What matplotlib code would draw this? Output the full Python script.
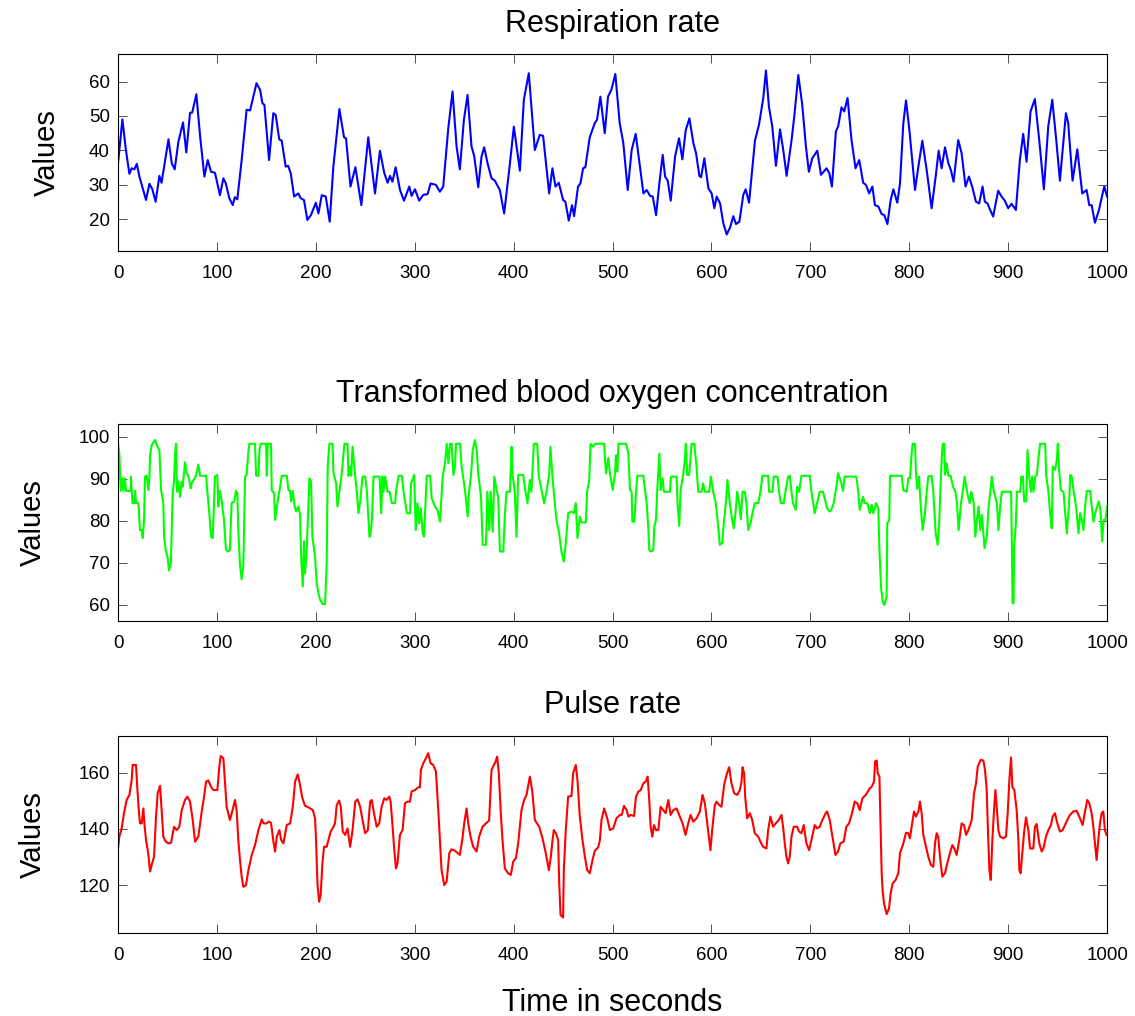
import numpy as np
import matplotlib
matplotlib.use("Agg")
import matplotlib.pyplot as plt

plt.rcParams['font.family'] = ['Liberation Sans', 'DejaVu Sans']

# (time in s, value)
resp_points = [
    (0, 36.3), (4.4, 49.0), (8, 40), (11.5, 33.2), (13.8, 34.8), (16.5, 34.5), (19, 36.1), (21.6, 32.4),
    (25, 29), (28.3, 25.6), (31.7, 30.3), (34.7, 28.7), (38, 25.1), (41.8, 32.6), (44, 30.6), (51, 43.2),
    (54.3, 36.3), (57.3, 34.5), (61, 42.5), (65.7, 48.1), (69, 39.4), (72.8, 50.9), (75, 51.0), (79.2, 56.3),
    (83, 44), (87.3, 32.4), (90.7, 37.2), (94, 33.8), (98, 33.5), (103, 27), (106.5, 31.9), (109, 30.4),
    (112.5, 26.1), (116, 24.1), (118, 26.4), (120.6, 25.8), (125, 37.2), (130, 51.8), (133.5, 51.6),
    (140, 59.5), (143.6, 57.6), (146, 53.7), (148, 53.2), (152.7, 37.2), (157, 50.8), (159.4, 50.3),
    (163, 43.2), (165.5, 42.8), (169.5, 35.3), (172, 35.5), (174.6, 33.4), (178, 26.6), (182.3, 27.5),
    (184.7, 26.1), (188, 25.6), (191.4, 19.8), (195, 21.2), (200, 24.8), (202.6, 21.7), (206, 27),
    (210, 26.6), (214, 19.3), (217.7, 35.3), (223.8, 52), (228.5, 43.8), (230.5, 43.5), (235, 29.5),
    (240, 35.1), (246, 24.1), (253, 43.8),
    (259.8, 27.5), (264.8, 39.9), (269.2, 33.4), (272.6, 30.6), (275, 32.6), (277.4, 30.9), (280.7, 35.1),
    (285.1, 28.5), (289.1, 25.4), (294.5, 29.5), (296.8, 26.8), (300.2, 28.7), (304.5, 25.4), (308.6, 27.1),
    (313, 27.3), (316, 30.4), (321.4, 30), (325.4, 28), (328.8, 29.5), (333.9, 46.4), (338.2, 57.1),
    (342.3, 41.1), (345.6, 34.5), (349.7, 48.9), (353.4, 56.1), (357.4, 41.1), (360.1, 38.4), (364.2, 29.3),
    (367.5, 38.2), (370.2, 40.9), (373.6, 36.3), (377.6, 31.9), (381, 31.2), (386, 28.5), (390.4, 21.7),
    (395.5, 34.3), (400.2, 46.9), (406.3, 34.1), (410.3, 54.7), (415.3, 62.4), (418, 52.7), (421.4, 40.1),
    (426.4, 44.5), (429.8, 44.2), (435.9, 27.5), (439.2, 34.8), (442.3, 29.5), (445.6, 30.6), (450, 25.6),
    (452.3, 25.1), (455.7, 19.6), (459, 24.1), (461.1, 20.9), (465.1, 29.5), (467.5, 30.4), (470.2, 34.8),
    (472.5, 35.1), (476.9, 43.8), (482, 47.9), (484.3, 48.9), (487.7, 55.6), (492.1, 45), (495.4, 55.6),
    (498.8, 57.6), (502.8, 62.2), (507.2, 47.9),
    (510.9, 42.1), (515.3, 28.5), (519.3, 40.1), (523.4, 44.8), (527.1, 36.7), (531.2, 27.5), (534.5, 28.5),
    (537.9, 26.8), (540.6, 26.6), (544, 21.2), (547.3, 30.4), (550.7, 38.7), (553.1, 32.4), (555.8, 31.2),
    (558.8, 25.4), (563.2, 38.2), (567.2, 43.5), (570.6, 37.4), (574, 45.9), (577.7, 49.3), (581.7, 42.1),
    (584.4, 39.2), (587.8, 32.6), (589.5, 32.2), (592.8, 37.7), (596.9, 29), (600.2, 27.5), (602.9, 23.2),
    (605.3, 26.6), (608.7, 24.6), (612, 18.8), (615.4, 15.6), (618.8, 17.6), (622.1, 20.9), (624.8, 18.6),
    (628.2, 19.3), (632.2, 27.1), (634.6, 28.7), (638, 24.8), (644, 42.9), (648, 47.4), (652.4, 55.2),
    (655.1, 63.2), (658.1, 52.7), (661.5, 46.9), (665.2, 35.5), (669.3, 46.1), (672.6, 40.1), (676, 32.6),
    (681, 43), (683.7, 49.8), (687.8, 61.9), (691.8, 53.2), (695.5, 41.1), (698.5, 33.8), (701.9, 37.7),
    (707, 39.9), (710.7, 32.9), (716.4, 34.8), (719.1, 33.4), (721.8, 29.5), (725.8, 45.5), (728.2, 47.1),
    (731.5, 52.5), (734.2, 51.3), (737.6, 55.2), (741.6, 43), (745.7, 34.8), (749.4, 37.2), (753.4, 30.6),
    (756.1, 30), (759.5, 27.5),
    (762.7, 29.5), (765.3, 24.1), (768.7, 23.7), (772.1, 21.5), (774.8, 21.2), (777.9, 18.6), (781.2, 25.6),
    (783.9, 28.7), (787.9, 24.8), (790.6, 30.4), (794, 47.9), (796.7, 54.5), (800.1, 46), (805.8, 28.5),
    (809.2, 35.3), (813.2, 42.8), (817.6, 34.3), (822.6, 23.2), (826.7, 32.4), (829.7, 39.9), (832.7, 34.8),
    (836.1, 40.9), (839.5, 36.3), (842.1, 34.3), (844.8, 30.9), (849.5, 43), (852.9, 39.2), (856.9, 29.5),
    (860.3, 32.4), (863.6, 29.5), (867.4, 25.1), (870.7, 24.6), (874.1, 29.5), (876.4, 25.1), (879.1, 24.6),
    (881.5, 22.9), (884.8, 20.8), (889.9, 28.3), (893.3, 26.6), (896.6, 25.4), (900, 23.2), (903.4, 24.5),
    (907.8, 22.7), (911.8, 37.2), (915.2, 44.8), (918.6, 36.7), (922.6, 51.3), (927, 54.9), (931.4, 43),
    (936.1, 28.7), (940.5, 46.9), (944.6, 54.7), (948.9, 42.1), (952.3, 31.2), (955.7, 42.1), (958.4, 50.8),
    (960.7, 47.9), (965.1, 31.2), (969.9, 40.3), (974.9, 27.5), (979.3, 28.5), (982, 24.1), (984.4, 24.1),
    (987.7, 19), (991.8, 22.7), (995.5, 27.5), (997.2, 29.5), (1000, 26.6),
]

oxy_points = [
    (0, 98.4), (1.3, 96), (2.7, 87.1), (4.7, 90.1), (5.4, 87.1), (7, 90.1), (8, 87.1), (12.8, 87.1),
    (13.1, 90.5), (14.5, 84.2), (16.5, 84.2), (17.2, 87.1), (18.2, 84.2), (20.6, 84.2), (22.2, 77.8),
    (23.9, 77.8), (25, 75.9), (26.3, 80.2), (27.3, 90.5), (29, 90.7), (30.7, 87.3), (31.7, 90.5),
    (32.4, 95.6), (34, 98), (37.4, 99.2), (39, 98), (41.8, 96.8), (43.5, 87.3), (45.8, 84.2), (46.5, 76.2),
    (48.2, 73.1), (50.2, 71.1), (51.5, 68.2), (53.5, 70.3), (55.2, 86.5), (56.6, 89.3), (57.6, 95.6),
    (58.6, 98.3), (59.6, 86.9), (61, 89.3), (62.7, 85.7), (64.3, 89.3), (65.4, 88.1), (67.7, 93.9),
    (69.4, 91.3), (71.1, 90.7), (73.5, 87.7), (74.5, 88.9), (78.8, 90.7), (81.2, 93.4), (82.9, 90.7),
    (89, 90.7), (90.3, 86.9), (92.3, 81.8), (94, 76.2), (95.7, 75.9), (98, 90.5), (100.4, 90.9),
    (101.4, 83.4), (103, 87.1), (104.7, 85), (107.1, 80.2), (109.1, 73.1), (111.5, 72.7), (113.1, 73.1),
    (114.8, 84.2), (117.5, 84.6), (119.2, 87.1), (120.6, 86.5), (121.6, 77.8), (123.3, 69.5), (125, 66.1),
    (126.7, 69.5), (128.4, 90.5), (130, 90.9), (131.8, 96.4), (132.8, 98.3), (138.5, 98.3), (139.6, 90.7),
    (142, 90.7), (143, 96.8), (144.3, 98.3), (149.7, 98.3), (150.4, 90.7), (151.4, 98.3), (154.7, 98.3),
    (155.4, 87.3), (157.8, 86.5), (158.8, 80.2), (160.5, 83.4), (163.9, 88.1), (165.5, 90.7), (170.6, 90.7),
    (172.3, 87.3), (174, 87.1), (175, 84.6), (176.7, 87.1), (178, 84.2), (180, 82.2), (182.4, 83.4),
    (184, 81.4), (185, 72.3), (186.8, 64.4), (188.1, 75.1), (189.1, 67.5), (190.8, 73.1), (192.5, 84.2),
    (193.5, 90.1), (195.2, 89.3), (196.5, 76.2), (199.2, 71.5), (200.9, 65.2), (202.6, 62.8), (204.3, 61.2),
    (207, 60.2), (209.3, 60.2), (211, 69.9), (212, 92.9), (213.7, 98.3), (216.8, 98.3), (217.8, 91.3),
    (220.5, 88.9), (221.8, 83.4), (223.9, 86.9), (226.2, 91.3), (228.9, 98.3), (232, 98.3), (233, 90.7),
    (234.7, 92.9), (235.7, 90.7), (237.1, 97.6), (239.8, 90.5), (241.4, 86.9), (243.1, 81.8), (244.8, 84.6),
    (247.2, 90.5), (249.9, 90.5), (251.5, 87.3), (254.2, 76.2),
    (255, 76.4), (256.7, 80.2), (258.3, 90.5), (264.4, 90.5), (266.1, 81.8), (267.4, 90.5), (268.4, 86.9),
    (270.1, 90.5), (272.5, 86.9), (274.5, 86.9), (276.9, 84.2), (280.2, 84.2), (281.2, 87.1), (283.6, 90.7),
    (287, 90.7), (288.6, 87.1), (292, 81.8), (295.3, 81.8), (296.3, 88.9), (299.4, 90.9), (301, 77.8),
    (302.7, 84.2), (304.4, 79.4), (306.1, 83), (308.1, 77), (309.4, 76.2), (312.1, 90.7), (315.5, 90.7),
    (317.1, 85.4), (320.5, 83.4), (322.9, 82.6), (325.6, 79.8), (328.2, 90.5), (330.6, 93.7), (332.3, 98.3),
    (334, 93.7), (335.7, 98.3), (337.3, 98.3), (339, 90.9), (340.7, 92.9), (341.7, 98.3), (345.8, 98.3),
    (347.4, 92.9), (350.8, 87.3), (352.5, 83.4), (353.5, 81), (354.9, 86.9), (356.9, 90.9), (358.6, 96.8),
    (360.9, 99.2), (362.6, 96.8), (364.3, 90.9), (367, 85.7), (368.7, 74.3), (372, 74.3), (373.4, 86.9),
    (375.4, 77.8), (376.7, 86.9), (378.8, 77.4), (380.4, 90.5), (382.8, 87.3), (384.4, 85.7), (386.1, 72.7),
    (389.5, 72.7), (391.2, 81.8), (392.8, 86.9), (396.2, 86.9), (397.9, 97.6), (398.9, 90.9), (401.2, 86.9),
    (402.9, 76.2), (404.6, 90.9), (409.6, 90.9), (412, 86.9), (414, 84.2), (416.4, 89.7), (418, 86.9),
    (420.4, 98.3), (423.8, 98.3), (425.4, 90.5), (428.1, 87.3), (430.8, 84.2), (433.2, 86.9), (435.9, 90.9),
    (437.2, 97.6), (439.2, 90.5), (441.6, 84.2), (443.3, 80.2), (446, 77), (448.3, 72.7), (450.7, 70.3),
    (452.7, 74.7), (455.1, 81.8), (458.5, 82.2), (460.8, 81.8), (462.8, 84.2), (464.5, 75.9), (466.9, 81),
    (468.6, 79.6), (473, 79.6), (474.3, 86.9), (476.4, 89.7), (477.7, 98.3), (480.4, 97.6), (482.1, 98.3),
    (491.4, 98.3), (493.4, 91.3), (495.8, 94.9), (497.5, 90.9), (500.2, 87.3), (502.5, 91.3), (503.5, 95.6),
    (504.8, 91.7), (505.9, 98.3), (513.6, 98.3), (516, 96), (517.6, 87.3), (519.3, 86.9), (520, 79.8),
    (522, 79.8), (523.7, 86.5), (525, 90.7), (531.1, 90.7), (532.8, 87.3), (534.5, 84.2), (536.1, 78.6),
    (537.1, 73.1), (538.5, 72.7), (541.2, 73.1), (542.2, 78.6), (543.9, 80.2), (545.2, 87.3), (547.3, 96),
    (548.6, 87.3), (550.6, 90.1), (551.9, 86.9), (558, 86.9), (559, 90.5), (564.7, 90.5), (565.7, 84.2),
    (567.4, 78.8), (568.8, 87.3), (571.4, 90.9), (573.1, 94.5), (574.1, 98.3), (575.5, 90.9), (577.5, 90.9),
    (579.9, 98.3), (582.6, 98.3), (584.9, 92.9), (586.6, 86.9), (590, 86.9), (591.6, 88.9), (593.3, 86.9),
    (597.7, 86.9), (599.4, 90.5), (601.7, 86.9), (604.4, 84.2), (606.8, 78.6), (608.4, 74.3), (610.8, 74.7),
    (612.5, 79.4), (614.5, 84.2), (616.2, 89.7), (618.6, 84.2), (620.9, 80.2), (622.6, 78.2), (624.6, 82.6),
    (626, 86.9), (628, 84.2), (629.7, 80.4), (631.4, 86.9), (633.7, 86.9), (635.4, 84.2), (637.1, 77.8),
    (639.4, 79.4), (641.5, 81.8), (643.8, 84.2), (647.2, 84.2), (649.5, 86.9), (651.5, 90.7), (657.3, 90.7),
    (658.3, 86.9), (661.7, 86.9), (663, 90.5), (666.7, 90.5), (668.4, 86.9), (670.1, 84.2), (673.1, 84.2),
    (675.1, 87.3), (677.5, 90.5), (679.2, 90.7), (680.9, 86.9), (682.5, 84.2), (685.2, 82.6), (686.6, 88.1),
    (688.6, 86.9), (691, 90.7), (699.4, 90.7), (701.1, 86.9), (702.8, 84.2), (704.4, 81.8), (706.8, 84.2),
    (709.5, 86.9), (712.8, 86.9), (714.5, 85.4), (716.9, 83), (719.6, 82.2), (721.2, 82.6), (723.6, 84.2),
    (726.3, 88.1), (728, 91.3), (729.7, 90.1), (731.3, 88.9), (733, 87.1), (734.7, 90.5), (746.5, 90.5),
    (748.2, 87.3), (749.9, 82.6), (753.2, 85.7), (754.9, 84.2), (757.6, 84.2), (759.3, 82.6),
    (760.3, 81.8), (762, 83.8), (763.7, 81.8), (766.4, 84.2), (768.7, 83), (769.7, 73.9), (771.4, 64.4),
    (773.1, 60.8), (774.8, 60), (777.1, 62), (777.8, 79.4), (779.8, 80.2), (780.5, 90.7), (792.3, 90.7),
    (794, 87.3), (797.4, 86.9), (799, 90.1), (800.7, 90.1), (802.4, 96), (803.4, 98.3), (805.8, 98.3),
    (806.8, 91.3), (808.1, 87.6), (809.8, 90.5), (811.5, 83.8), (813.5, 77.8), (815.9, 81.8), (817.6, 86.9),
    (819.2, 90.5), (822.6, 90.7), (824.3, 86.9), (826.7, 77), (828.7, 74.3), (830.4, 80.2), (832.1, 91.3),
    (833.7, 98.3), (835.4, 98.3), (836.1, 90.9), (837.8, 93.7), (839.5, 90.7), (841.8, 90.7), (844.2, 88.1),
    (846.6, 86.9), (848.2, 84.2), (849.9, 77.8), (852.3, 84.2), (854, 86.9), (856, 90.5), (858.4, 86.9),
    (861, 84.2), (862.7, 86.9), (865.1, 84.2), (866.8, 76.2), (868.4, 80.2), (870.1, 83.4), (871.8, 77.8),
    (873.4, 81.4), (876.1, 73.5), (878.5, 76.6), (880.2, 83.4), (881.9, 86.9), (883.5, 90.5), (885.2, 87.3),
    (888.6, 84.2), (890.2, 77.8), (891.9, 83.4), (893.6, 86.9), (903, 86.9), (903.7, 75.1), (904.4, 60.4),
    (905.4, 60.4), (906.1, 74.3), (907.8, 79.4), (908.8, 86.9), (912.2, 86.9), (913.2, 90.5), (914.9, 90.5),
    (916.2, 84.6), (918.2, 84.6), (919.6, 96.8), (921.3, 90.5), (922.9, 86.9), (924.3, 90.5), (925.6, 86.9),
    (927.3, 90.5), (929, 90.9), (930.7, 95.2), (932.3, 98.3), (937.4, 98.3), (938.4, 90.9), (940.7, 86.9),
    (942.4, 81.8), (944.1, 78.2), (945.1, 92.9), (947.5, 92.1), (949.2, 94.5), (950.2, 98.3), (951.5, 92.1),
    (953.2, 87.3), (955.9, 86.9), (957.6, 81.8), (959.3, 77), (961.6, 84.2), (962.7, 90.9), (964.3, 90.5),
    (966, 87.3), (968.7, 83.4), (971.1, 77), (972.8, 81.8), (974.4, 80.2), (976.1, 77.8), (977.8, 83.4),
    (979.5, 87.1), (982.8, 87.1), (984.5, 83.4), (986.2, 79.8), (988.9, 82.6), (991.6, 84.6), (993.3, 82.6),
    (995, 75.1), (996.6, 80.2), (998.3, 80.2), (1000, 83.4),
]

pulse_points = [
    (0, 133.1), (1.3, 137.3), (3.7, 140.2), (6, 145.6), (8.7, 150.3), (11.5, 152.1), (13.8, 157.4),
    (14.8, 162.7), (18.2, 162.7), (19.5, 154.4), (21.2, 145.6), (22.2, 142), (23.9, 142), (25.6, 147.3),
    (26.6, 142), (28.3, 136.1), (30.7, 130.8), (32.4, 124.9), (34, 127.2), (36.4, 130.2), (38.4, 144.4),
    (40.1, 152.7), (42.5, 155.3), (44.1, 146.7), (45.8, 137.3), (48.2, 135.5), (50.9, 134.9), (53.6, 135.1),
    (56.6, 140.8), (59.3, 139.6), (62, 140.8), (64.4, 146.7), (67.7, 150.3), (70.1, 151.5), (72.8, 149.7),
    (75.5, 143.2), (77.9, 135.5), (81.2, 137.3), (84.6, 146.2), (87, 151.5), (89, 156.8), (91.4, 157.2),
    (94, 155), (96.4, 153.8), (100.4, 153.8), (102.4, 162.1), (103.8, 165.9), (106.5, 165.1), (108.2, 156.2),
    (109.8, 147.9), (113.1, 143.2), (115.8, 146.7), (118.2, 150.3), (119.9, 146.7), (121.6, 136.1),
    (123.3, 129), (125, 123.1), (126.7, 119.5), (129.4, 120.1), (131.8, 125.4), (135.2, 130.8),
    (138.5, 134.3), (141.9, 139.6), (145.3, 143.4), (147, 142), (150.4, 142), (152.1, 142.6), (154.7, 142.2),
    (157.1, 135.5), (158.8, 132), (160.5, 137.3), (163.2, 139.6), (164.9, 136.1), (167.2, 134.9),
    (170.6, 141.4), (174, 142), (176.7, 147.9), (179, 156.8), (181.7, 159.4), (184, 155.6), (186.4, 150.9),
    (189.1, 148.2), (192.5, 147.7), (196.9, 146.7), (199.2, 143.8), (200.2, 136.1), (201.6, 120.7),
    (203.3, 114.2), (204.9, 116.6), (206.6, 127.8), (208.3, 133.7), (211, 133.7), (212.7, 136.1),
    (215, 139.1), (217.8, 140.8), (219.4, 142), (221.1, 148.5), (223.5, 150.1), (225.2, 147.9),
    (227.2, 139.1), (229.6, 137.9), (232, 140.2), (234.7, 133.7), (237.1, 139.6), (239.8, 149.7),
    (242.2, 150.5), (244.8, 147.9), (247.2, 143.2), (249.9, 138.5), (252.6, 139.6), (254.9, 149.7),
    (256.5, 150.3), (258.8, 145.6), (261.5, 140.8), (264.1, 142), (266.5, 147.9), (269.2, 150.9),
    (271.6, 150.3), (274.2, 151.5), (275.6, 149.7), (277.6, 140.8), (279.3, 132.5), (281, 126),
    (282.6, 127.8), (285, 137.9), (287.7, 139.6), (290.1, 149.1), (292.4, 149.7), (295.1, 149.7),
    (296.8, 153.3), (300.2, 153.8), (303.5, 154.8), (305.2, 154.8), (306.2, 160.9), (308.6, 163.3),
    (311.3, 165.1), (313.6, 166.9), (316, 163.3), (318.7, 162.7), (321.4, 160.4), (323.8, 146.7),
    (325.4, 136.1), (327.1, 125.4), (329.8, 120.1), (332.2, 121.3), (334.9, 131.4), (337.2, 132.8),
    (340.6, 132.3), (343, 131.6), (345.6, 130.8), (348.3, 136.7), (350, 142), (352.4, 147.3), (354.1, 142),
    (356.4, 137.3), (359.1, 133.7), (362.5, 132), (365.1, 137.3), (368.5, 140.8), (372.6, 142.2),
    (375.2, 143), (377.6, 160.9), (380, 162.7), (381.7, 163.9), (383.3, 165.7), (385, 159.8), (387, 145.6),
    (388.7, 136.1), (391.1, 126), (394.4, 124.3), (397.1, 123.7), (399.5, 128.4), (402.2, 129.6),
    (404.6, 134.9), (407.9, 146.7), (410.6, 150.3), (413, 152.1), (416.4, 158.6), (418.7, 153.8),
    (421.4, 143.2), (425.8, 140.8), (429.2, 136.7), (432.5, 131.4), (435.6, 125.4), (437.6, 130.2),
    (439.3, 136.1), (440.6, 139.6), (442.7, 138.5), (445, 136.1), (446, 121.3), (447.4, 109.5),
    (450, 108.6), (450.7, 125.4), (452.7, 139.6), (455.1, 151.5), (458.5, 151.7), (460.1, 159.8),
    (462.8, 162.7), (464.5, 157.4), (466.9, 144.4), (469.6, 136.1), (472, 130.2), (474.3, 125.4),
    (477, 124.3), (479.7, 129), (482.1, 132.3), (485.5, 133.5), (487.2, 136.1), (488.8, 143.2),
    (491.5, 147.3), (494.6, 143.8), (497.3, 139.6), (500.6, 140.2), (504, 143.8), (507.4, 145),
    (509.3, 145), (511.6, 148.2), (514.3, 146.7), (516, 144.4), (518.4, 145), (521.7, 144.6), (523.7, 151.5),
    (526.1, 153.3), (528.4, 153.8), (531.1, 156.2), (533.5, 156.8), (535.5, 158.6), (537.1, 150.3),
    (538.5, 140.8), (540.2, 137.3), (541.9, 141.4), (543.9, 139.6), (546.3, 139.6), (548.6, 147.9),
    (551.3, 146.7), (553.7, 145.6), (556.4, 150.3), (558.7, 145), (561.4, 146.7), (564.7, 147.3),
    (568.1, 144.4), (570.8, 142), (573.8, 137.9), (576.5, 142), (578.9, 145), (581.6, 142.6), (584.9, 143.8),
    (588.3, 146.2), (591, 152.1), (593.3, 149.1), (595.7, 142), (597.4, 137.3), (599, 132.5), (600.7, 139.6),
    (603.4, 148.5), (605.1, 149.7), (607.8, 148.5), (610.1, 147.9), (612.8, 155.6), (615.2, 159.2),
    (617.9, 161.9), (620.2, 156.2), (622.9, 152.7), (626, 152.1), (628.7, 153.8), (630.4, 156.8),
    (631.4, 161.9), (633, 159.8), (634.1, 151.5), (636.1, 143.8), (638.8, 145.6), (641.2, 143.2),
    (643.8, 138.5), (647.2, 137.3), (649.5, 135.5), (652.2, 133.7), (655.6, 133.1), (657.3, 139.6),
    (659.6, 144.4), (662.3, 140.8), (665, 142), (668.1, 143.2), (670.8, 145), (672.4, 140.8), (674.1, 134.9),
    (675.8, 130.2), (677.5, 127.8), (679.2, 130.2), (680.9, 137.3), (683.2, 140.8), (686.6, 140.8),
    (688.6, 139.1), (691, 138.5), (693.3, 141.4), (696, 134.9), (698.7, 132.5), (701.1, 136.1),
    (704.4, 141.4), (706.8, 140.2), (709.5, 140.8), (712.1, 143.2), (715.5, 145.6), (716.9, 146.2),
    (719.6, 143.2), (721.2, 139.6), (722.9, 136.1), (725.3, 130.8), (728, 132), (730.3, 134.9),
    (733.7, 135.5), (736.4, 140.8), (739.1, 142), (742.1, 145.6), (744.8, 149.7), (747.5, 149.1),
    (749.9, 146.7), (752.6, 150.9), (756, 152.1), (760, 154.4),
    (762, 155), (764.4, 156.8), (765.4, 163.9), (767.1, 164.3), (768.1, 159.8), (769.8, 158.6),
    (771.1, 139.6), (772.1, 124.3), (773.1, 117.8), (774.5, 113.6), (777.1, 109.8), (779.5, 111.8),
    (781.2, 117.2), (783.2, 120.7), (786.2, 121.9), (788.9, 124.3), (790.6, 131.4), (794, 134.9),
    (796.7, 138.7), (799, 138.5), (800.7, 136.7), (802.4, 140.8), (804.8, 146.2), (806.8, 144.4),
    (809.2, 146.2), (810.8, 149.7), (812.5, 145.6), (814.2, 137.9), (816.9, 133.7), (819.2, 130.2),
    (821.9, 127.2), (824.3, 126.6), (826, 134.9), (827.7, 138.5), (829.3, 137.3), (831, 130.2),
    (833.4, 123.1), (836.1, 124.3), (838.4, 127.8), (841.1, 131.4), (843.5, 134.3), (845.5, 133.1),
    (847.9, 130.8), (850.6, 136.1), (853, 142), (855.3, 141.4), (857.4, 137.9), (859.7, 139.6),
    (861.4, 141.4), (863.1, 143.2), (865.5, 152.7), (867.5, 156.2), (869.2, 162.1), (872.2, 164.5),
    (874.9, 164.3), (876.6, 160.9), (878.3, 153.8), (879.3, 142), (881, 125.4), (882.4, 121.9), (884, 136.1),
    (885.7, 146.7), (887.1, 153.8), (888.4, 147.9), (890.1, 139.6), (891.8, 137.3), (895.1, 136.7),
    (897.8, 137.3), (899.5, 145.6), (901.2, 157.4), (902.9, 165.4), (904.2, 155), (906.2, 153.8),
    (908.6, 146.7), (910.3, 136.1), (911.3, 125.4), (912.6, 124.3), (914.3, 131.4), (916, 138.5),
    (918, 144.1), (920.4, 139.6), (922.1, 133.1), (925.4, 133.1), (927.1, 140.8), (928.8, 141.8),
    (931.5, 134.9), (933.9, 132), (935.6, 133.1), (938.2, 137.3), (940.6, 139.6), (943.3, 141.4),
    (945, 144.4), (947.3, 145.6), (949.7, 142), (952.4, 139.1), (955.1, 139.6), (957.4, 141.4),
    (959.8, 143.2), (962.5, 145), (965.9, 146.2), (969.2, 146.5), (972.6, 143.8), (975.3, 141.4),
    (977.7, 146.2), (980, 150.3), (982, 149.1), (984.4, 145.6), (986.1, 140.8), (987.8, 134.9),
    (989.4, 129), (991.1, 136.1), (992.8, 142), (994.5, 145.6), (996.2, 146.2), (997.8, 139.6),
    (999.5, 137.9),
]

titles = ["Respiration rate", "Transformed blood oxygen concentration", "Pulse rate"]
colors = ["#0000ff", "#00ff00", "#ff0000"]
ylims = [(10.8, 68.0), (56.2, 103.0), (103.0, 173.1)]
yticks = [[20, 30, 40, 50, 60], [60, 70, 80, 90, 100], [120, 140, 160]]
xticks = list(range(0, 1001, 100))
ylabel_pads = [20, 23, 23]

fig = plt.figure(figsize=(11.35, 10.16), dpi=100)
# axes boxes in figure fractions (left, bottom, width, height)
boxes = [(0.104, 0.753, 0.8714, 0.1939),
         (0.104, 0.3888, 0.8714, 0.1939),
         (0.104, 0.0814, 0.8714, 0.1945)]

for i, pts in enumerate([resp_points, oxy_points, pulse_points]):
    t, v = np.array(pts).T
    ax = fig.add_axes(boxes[i])
    ax.plot(t, v, color=colors[i], linewidth=1.5)
    ax.set_xlim(0, 1000)
    ax.set_ylim(*ylims[i])
    ax.set_xticks(xticks)
    ax.set_yticks(yticks[i])
    ax.tick_params(direction='in', length=6.5, width=0.6, top=True, right=True,
                   labelsize=13.5, color='#333333')
    ax.tick_params(axis='x', pad=10)
    ax.tick_params(axis='y', pad=6)
    for s in ax.spines.values():
        s.set_linewidth(0.8)
    ax.set_title(titles[i], fontsize=22, pad=16)
    ax.set_ylabel("Values", fontsize=21, labelpad=ylabel_pads[i])

ax.set_xlabel("Time in seconds", fontsize=22, labelpad=17)

fig.savefig("out.png", dpi=100)
